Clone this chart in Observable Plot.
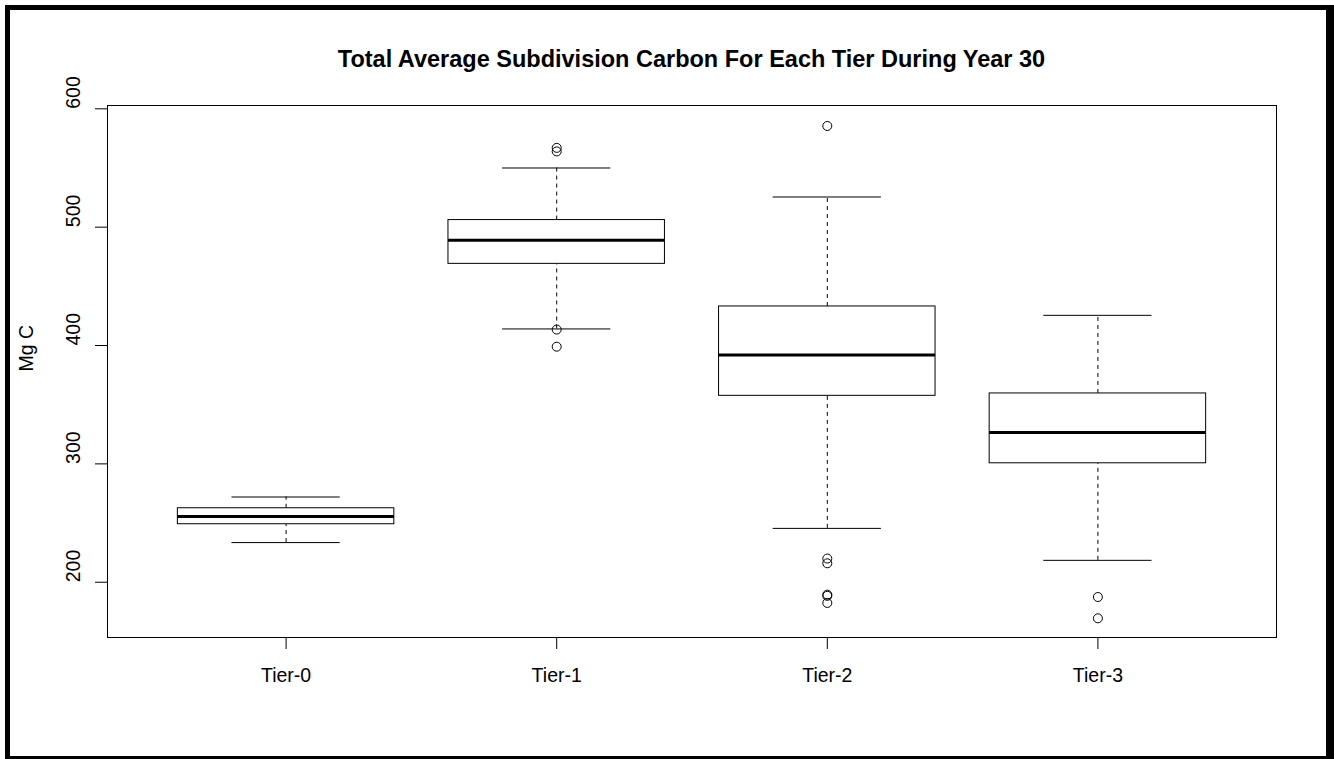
<!DOCTYPE html>
<html>
<head>
<meta charset="utf-8">
<script src="https://cdn.jsdelivr.net/npm/d3@7"></script>
<script src="https://cdn.jsdelivr.net/npm/@observablehq/plot@0.6"></script>
<style>
  html, body { margin: 0; padding: 0; background: #fff; }
  #wrap { position: relative; width: 1334px; height: 759px; overflow: hidden; background: #fff; }
  #title {
    position: absolute; left: 107px; width: 1169px; top: 47px;
    text-align: center; font: bold 23.5px "Liberation Sans", Arial, sans-serif;
    line-height: 24px; color: #000;
  }
  #border {
    position: absolute; left: 5px; top: 5px; right: 0; bottom: 0;
    border-style: solid; border-color: #000;
    border-width: 5px 8px 3px 5px; pointer-events: none;
  }
  #chart svg { display: block; }
</style>
</head>
<body>
<div id="wrap">
  <div id="chart"></div>
  <div id="title">Total Average Subdivision Carbon For Each Tier During Year 30</div>
  <div id="border"></div>
</div>
<script>
// Five-number summaries per tier (Mg C)
const tiers = ["Tier-0", "Tier-1", "Tier-2", "Tier-3"];
const lowerWhisker = [233.5, 414, 245.5, 218.5];
const lowerQuartile = [249, 469, 357.5, 300.5];
const medians = [255.5, 489, 392, 326.5];
const upperQuartile = [262.5, 506, 433, 359.5];
const upperWhisker = [272, 550, 525.5, 425.5];

// Points beyond the whiskers
const outlierTier = ["Tier-1", "Tier-1", "Tier-1", "Tier-1", "Tier-2", "Tier-2", "Tier-2", "Tier-2", "Tier-2", "Tier-2", "Tier-3", "Tier-3"];
const outlierValue = [567, 564, 413.5, 399, 585.5, 220, 216, 189.5, 188.5, 182.5, 187.5, 169.5];

const yTicks = [200, 300, 400, 500, 600];

const rows = tiers.map((t, i) => ({
  tier: t, pos: i + 1,
  lw: lowerWhisker[i], q1: lowerQuartile[i], med: medians[i],
  q3: upperQuartile[i], uw: upperWhisker[i]
}));
const outliers = outlierTier.map((t, i) => ({ pos: tiers.indexOf(t) + 1, value: outlierValue[i] }));

const boxHalf = 0.4, capHalf = 0.2;
const labelSize = 19.5;

const chart = Plot.plot({
  width: 1334,
  height: 759,
  marginLeft: 107,
  marginRight: 58,
  marginTop: 105,
  marginBottom: 122,
  style: { fontFamily: "'Liberation Sans', Arial, sans-serif", fontSize: labelSize + "px", background: "transparent", color: "#000" },
  x: { domain: [0.34, 4.66], axis: null },
  y: { domain: [153.3, 602.8], axis: null },
  marks: [
    // whiskers
    Plot.ruleX(rows, { x: "pos", y1: "q3", y2: "uw", stroke: "#000", strokeDasharray: "4,4" }),
    Plot.ruleX(rows, { x: "pos", y1: "lw", y2: "q1", stroke: "#000", strokeDasharray: "4,4" }),
    Plot.ruleY(rows, { y: "uw", x1: d => d.pos - capHalf, x2: d => d.pos + capHalf, stroke: "#000" }),
    Plot.ruleY(rows, { y: "lw", x1: d => d.pos - capHalf, x2: d => d.pos + capHalf, stroke: "#000" }),
    // boxes and medians
    Plot.rect(rows, { x1: d => d.pos - boxHalf, x2: d => d.pos + boxHalf, y1: "q1", y2: "q3", fill: "#fff", stroke: "#000" }),
    Plot.ruleY(rows, { y: "med", x1: d => d.pos - boxHalf, x2: d => d.pos + boxHalf, stroke: "#000", strokeWidth: 3 }),
    // outliers
    Plot.dot(outliers, { x: "pos", y: "value", r: 4.5, stroke: "#000", fill: "none", strokeWidth: 1 }),
    // axes
    Plot.axisX({ ticks: [1, 2, 3, 4], tickSize: 12, tickPadding: 19, tickFormat: i => tiers[i - 1], label: null, fontSize: labelSize }),
    Plot.axisY({ ticks: yTicks, tickSize: 12, tickFormat: () => "", label: null }),
    Plot.text(yTicks, { y: d => d, text: d => String(d), frameAnchor: "left", dx: -34, rotate: -90, fontSize: labelSize }),
    Plot.text(["Mg C"], { frameAnchor: "left", dx: -81, rotate: -90, fontSize: labelSize }),
    Plot.frame({ stroke: "#000" })
  ]
});
document.getElementById("chart").appendChild(chart);
</script>
</body>
</html>
